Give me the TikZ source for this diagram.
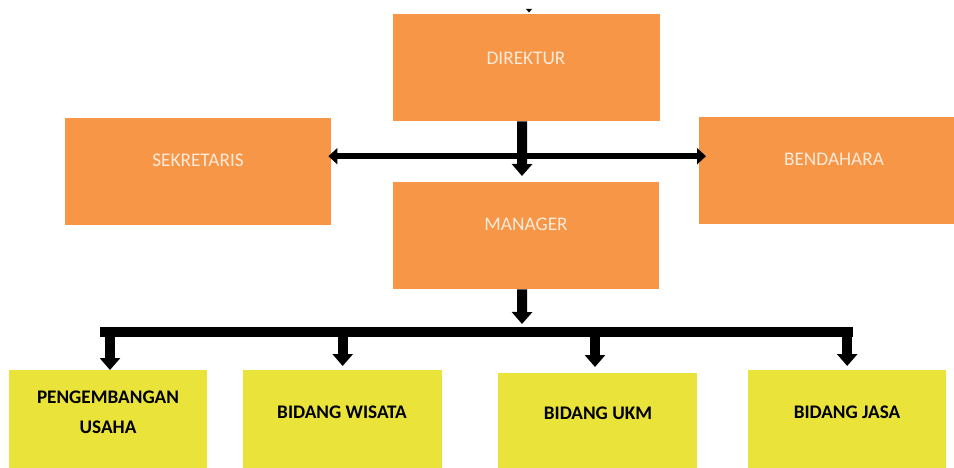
\documentclass[tikz,border=0pt]{standalone}
\usepackage{fontspec}
\setmainfont{Carlito}
\usetikzlibrary{arrows.meta}
\definecolor{orgbox}{HTML}{F79646}
\definecolor{orgtext}{HTML}{FDEADA}
\definecolor{yelbox}{HTML}{E9E33A}
\tikzset{
  obox/.style={rectangle, fill=orgbox, draw=none, inner sep=0pt, anchor=north west},
  ybox/.style={rectangle, fill=yelbox, draw=none, inner sep=0pt, anchor=north west},
  otext/.style={text=orgtext, inner sep=0pt, font=\fontsize{19.3}{23}\selectfont},
  ytext/.style={text=black, inner sep=0pt, align=center, font=\fontsize{19.2}{30}\selectfont\bfseries},
  bigarrow/.style={line width=10pt, -{Triangle[width=20pt,length=12pt]}},
  twoarrow/.style={line width=6pt, {Triangle[width=16pt,length=9pt]}-{Triangle[width=16pt,length=9pt]}},
  busline/.style={line width=10pt}
}
\begin{document}
\begin{tikzpicture}[x=1pt,y=-1pt]
\clip (0,0) rectangle (954,468);
\fill[white] (0,0) rectangle (954,468);
% boxes
\node[obox, minimum width=267pt, minimum height=107pt] (dir) at (393,14) {};
\node[obox, minimum width=266pt, minimum height=107pt] (man) at (393,182) {};
\node[obox, minimum width=266pt, minimum height=107pt] (sek) at (65,118) {};
\node[obox, minimum width=260pt, minimum height=107pt] (ben) at (699,117) {};
\node[ybox, minimum width=198pt, minimum height=110pt] (b1) at (9,370) {};
\node[ybox, minimum width=199pt, minimum height=110pt] (b2) at (243,370) {};
\node[ybox, minimum width=199pt, minimum height=110pt] (b3) at (498,373) {};
\node[ybox, minimum width=198pt, minimum height=110pt] (b4) at (748,370) {};
% texts
\node[otext] (dirt) at (526,58) {DIREKTUR};
\node[otext] (mant) at (526,224) {MANAGER};
\node[otext] (sekt) at (198,160) {SEKRETARIS};
\node[otext] (bent) at (834,159) {BENDAHARA};
\node[ytext] (b1t) at (108,412) {PENGEMBANGAN\\USAHA};
\node[ytext] (b2t) at (342,412) {BIDANG WISATA};
\node[ytext] (b3t) at (598,413) {BIDANG UKM};
\node[ytext] (b4t) at (847,412) {BIDANG JASA};
% small mark at top
\fill[black] (526,9) -- (532,9) -- (529,12.5) -- cycle;
% connectors
\coordinate (dirtip) at (522,176);
\coordinate (mantip) at (522,324);
\coordinate (busL) at (100,332);
\coordinate (busR) at (853,332);
\draw[bigarrow] ([xshift=-4.5pt]dir.south) -- (dirtip);
\draw[twoarrow] ([yshift=15.5pt, xshift=-3pt]sek.east) -- ([yshift=14.5pt, xshift=7pt]ben.west);
\draw[bigarrow] ([xshift=-4pt]man.south) -- (mantip);
\draw[busline] (busL) -- (busR);
\draw[bigarrow] (110,332) -- (b1.north -| 110,0);
\draw[bigarrow] (b2.north |- busL) -- ([yshift=4pt]b2.north);
\draw[bigarrow] (595,332) -- (595,367);
\draw[bigarrow] (b4.north |- busL) -- ([yshift=4pt]b4.north);
\end{tikzpicture}
\end{document}
